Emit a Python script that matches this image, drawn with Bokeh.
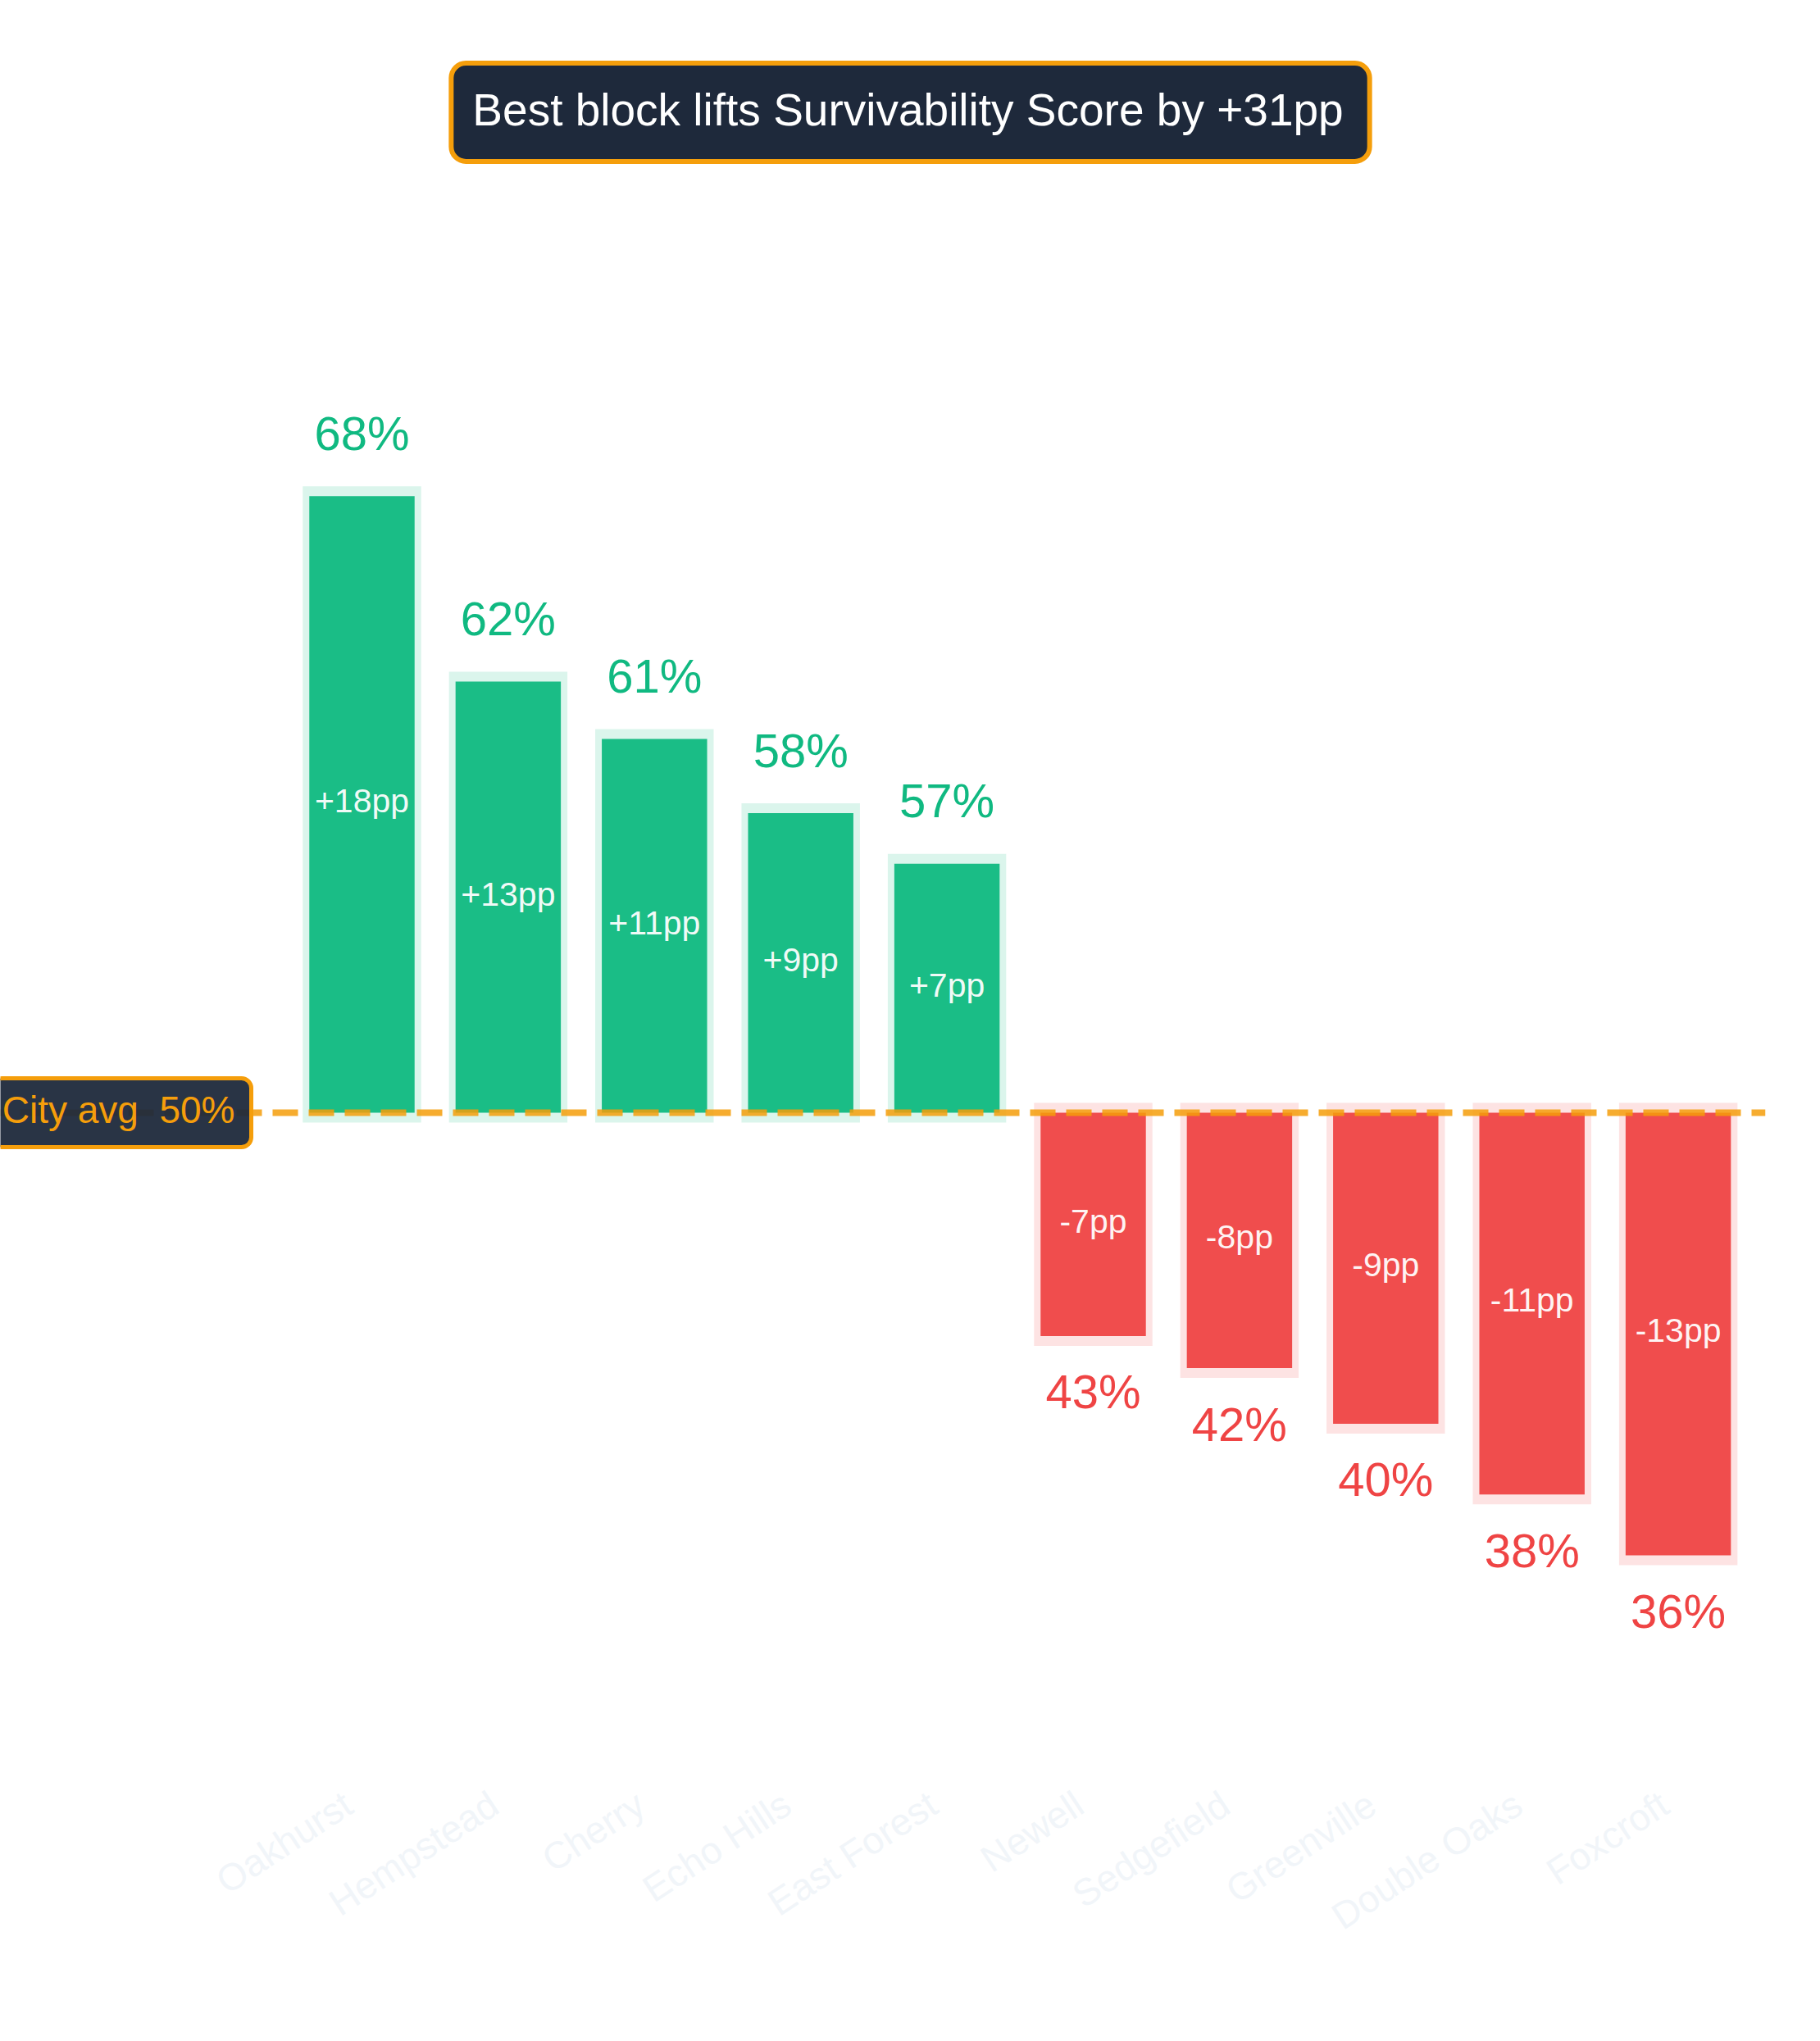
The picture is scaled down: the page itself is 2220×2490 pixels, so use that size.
from bokeh.plotting import figure
from bokeh.models import ColumnDataSource, Range1d, Span, Label, FixedTicker
from bokeh.embed import file_html
from bokeh.resources import INLINE
from bokeh.core.properties import value

# ---- data ----
blocks = ["Oakhurst", "Hempstead", "Cherry", "Echo Hills", "East Forest",
          "Newell", "Sedgefield", "Greenville", "Double Oaks", "Foxcroft"]
scores = [67.8, 62.3, 60.6, 58.4, 56.9, 42.9, 41.95, 40.3, 38.2, 36.4]
city_avg = 49.52
metric = "Survivability Score"

# ---- styling / layout constants ----
GREEN = "#10b981"
RED = "#ef4444"
ORANGE = "#f59e0b"
NAVY = "#1e293b"
FONT = "Liberation Sans"
W, H = 2220, 2490
FRAME_RIGHT, FRAME_BOTTOM = 2153, 2170
PX_PER_CAT = 178.4
FIRST_CENTER_PX = 441.0
PX_PER_PP = 41.15
AVG_PX = 1357.0
BAR_W = 0.72
LABEL_SHIFT = 0.095  # rotated tick labels sit slightly left of bar centres

n = len(blocks)
xs = list(range(n))
above = [s >= city_avg for s in scores]
colors = [GREEN if a else RED for a in above]

pad_y = 12 / PX_PER_PP
src = ColumnDataSource(dict(
    x=xs,
    top=scores,
    bottom=[city_avg] * n,
    color=colors,
    halo_top=[max(s, city_avg) + pad_y for s in scores],
    halo_bottom=[min(s, city_avg) - pad_y for s in scores],
    mid=[(s + city_avg) / 2 for s in scores],
    delta=[f"{s - city_avg:+.0f}pp" for s in scores],
    vlabel=[f"{s:.0f}%" for s in scores],
    voff=[-77 if a else 68 for a in above],
))

x0 = -FIRST_CENTER_PX / PX_PER_CAT
x1 = (FRAME_RIGHT - FIRST_CENTER_PX) / PX_PER_CAT
y0 = city_avg - (FRAME_BOTTOM - AVG_PX) / PX_PER_PP
y1 = city_avg + AVG_PX / PX_PER_PP

p = figure(width=W, height=H, output_backend="svg", toolbar_location=None,
           x_range=Range1d(x0, x1), y_range=Range1d(y0, y1),
           y_axis_location=None, min_border_left=0, min_border_top=0,
           min_border_right=W - FRAME_RIGHT, min_border_bottom=H - FRAME_BOTTOM)
p.outline_line_color = None
p.background_fill_color = "white"
p.border_fill_color = "white"
p.xgrid.visible = False
p.ygrid.visible = False

# halo behind bars
p.vbar(x="x", width=BAR_W + 16 / PX_PER_CAT, top="halo_top", bottom="halo_bottom",
       source=src, fill_color="color", fill_alpha=0.15, line_color=None)
# bars
p.vbar(x="x", width=BAR_W, top="top", bottom="bottom", source=src,
       fill_color="color", fill_alpha=0.95, line_color=None)

# delta labels inside bars
p.text(x="x", y="mid", text="delta", source=src, text_align="center",
       text_baseline="middle", text_color="white", text_alpha=0.95,
       text_font=value(FONT), text_font_size="41px", y_offset=-4)
# value labels beyond bars
p.text(x="x", y="top", text="vlabel", source=src, text_align="center",
       text_baseline="alphabetic", y_offset="voff", text_color="color",
       text_font=value(FONT), text_font_size="58px")

# city average line
avg_line = Span(location=city_avg, dimension="width", line_color=ORANGE,
                line_alpha=0.85, line_width=8, line_dash="31 13", line_dash_offset=20)
p.add_layout(avg_line)

avg_label = Label(x=306, x_units="screen", y=city_avg, y_units="data",
                  text=f"City avg\u00a0 {city_avg:.0f}%", text_align="right",
                  text_baseline="middle", text_color=ORANGE,
                  text_font=FONT, text_font_size="46px",
                  background_fill_color=NAVY, background_fill_alpha=0.95,
                  border_line_color=ORANGE, border_line_width=5,
                  border_radius=12, padding=(12, 20, 12, 20))
p.add_layout(avg_label)

lift = max(scores) - min(scores)
title = Label(x=W / 2, x_units="screen", y=FRAME_BOTTOM - 136.5, y_units="screen",
              text=f"Best block lifts {metric} by {lift:+.0f}pp",
              text_align="center", text_baseline="middle", text_color="white",
              text_font=FONT, text_font_size="55px",
              background_fill_color=NAVY, background_fill_alpha=1.0,
              border_line_color=ORANGE, border_line_width=6,
              border_radius=18, padding=(26, 32, 26, 32))
p.add_layout(title)

# x axis
tick_pos = [round(i - LABEL_SHIFT, 3) for i in xs]
ax = p.xaxis[0]
ax.ticker = FixedTicker(ticks=tick_pos)
ax.major_label_overrides = {t: b for t, b in zip(tick_pos, blocks)}
ax.major_label_orientation = 0.58
ax.major_label_text_font = FONT
ax.major_label_text_font_size = "46px"
ax.major_label_text_color = "#f1f5f9"
ax.major_label_standoff = 20
ax.axis_line_color = None
ax.major_tick_line_color = None
ax.minor_tick_line_color = None

open("out.html", "w").write(file_html(p, INLINE))
